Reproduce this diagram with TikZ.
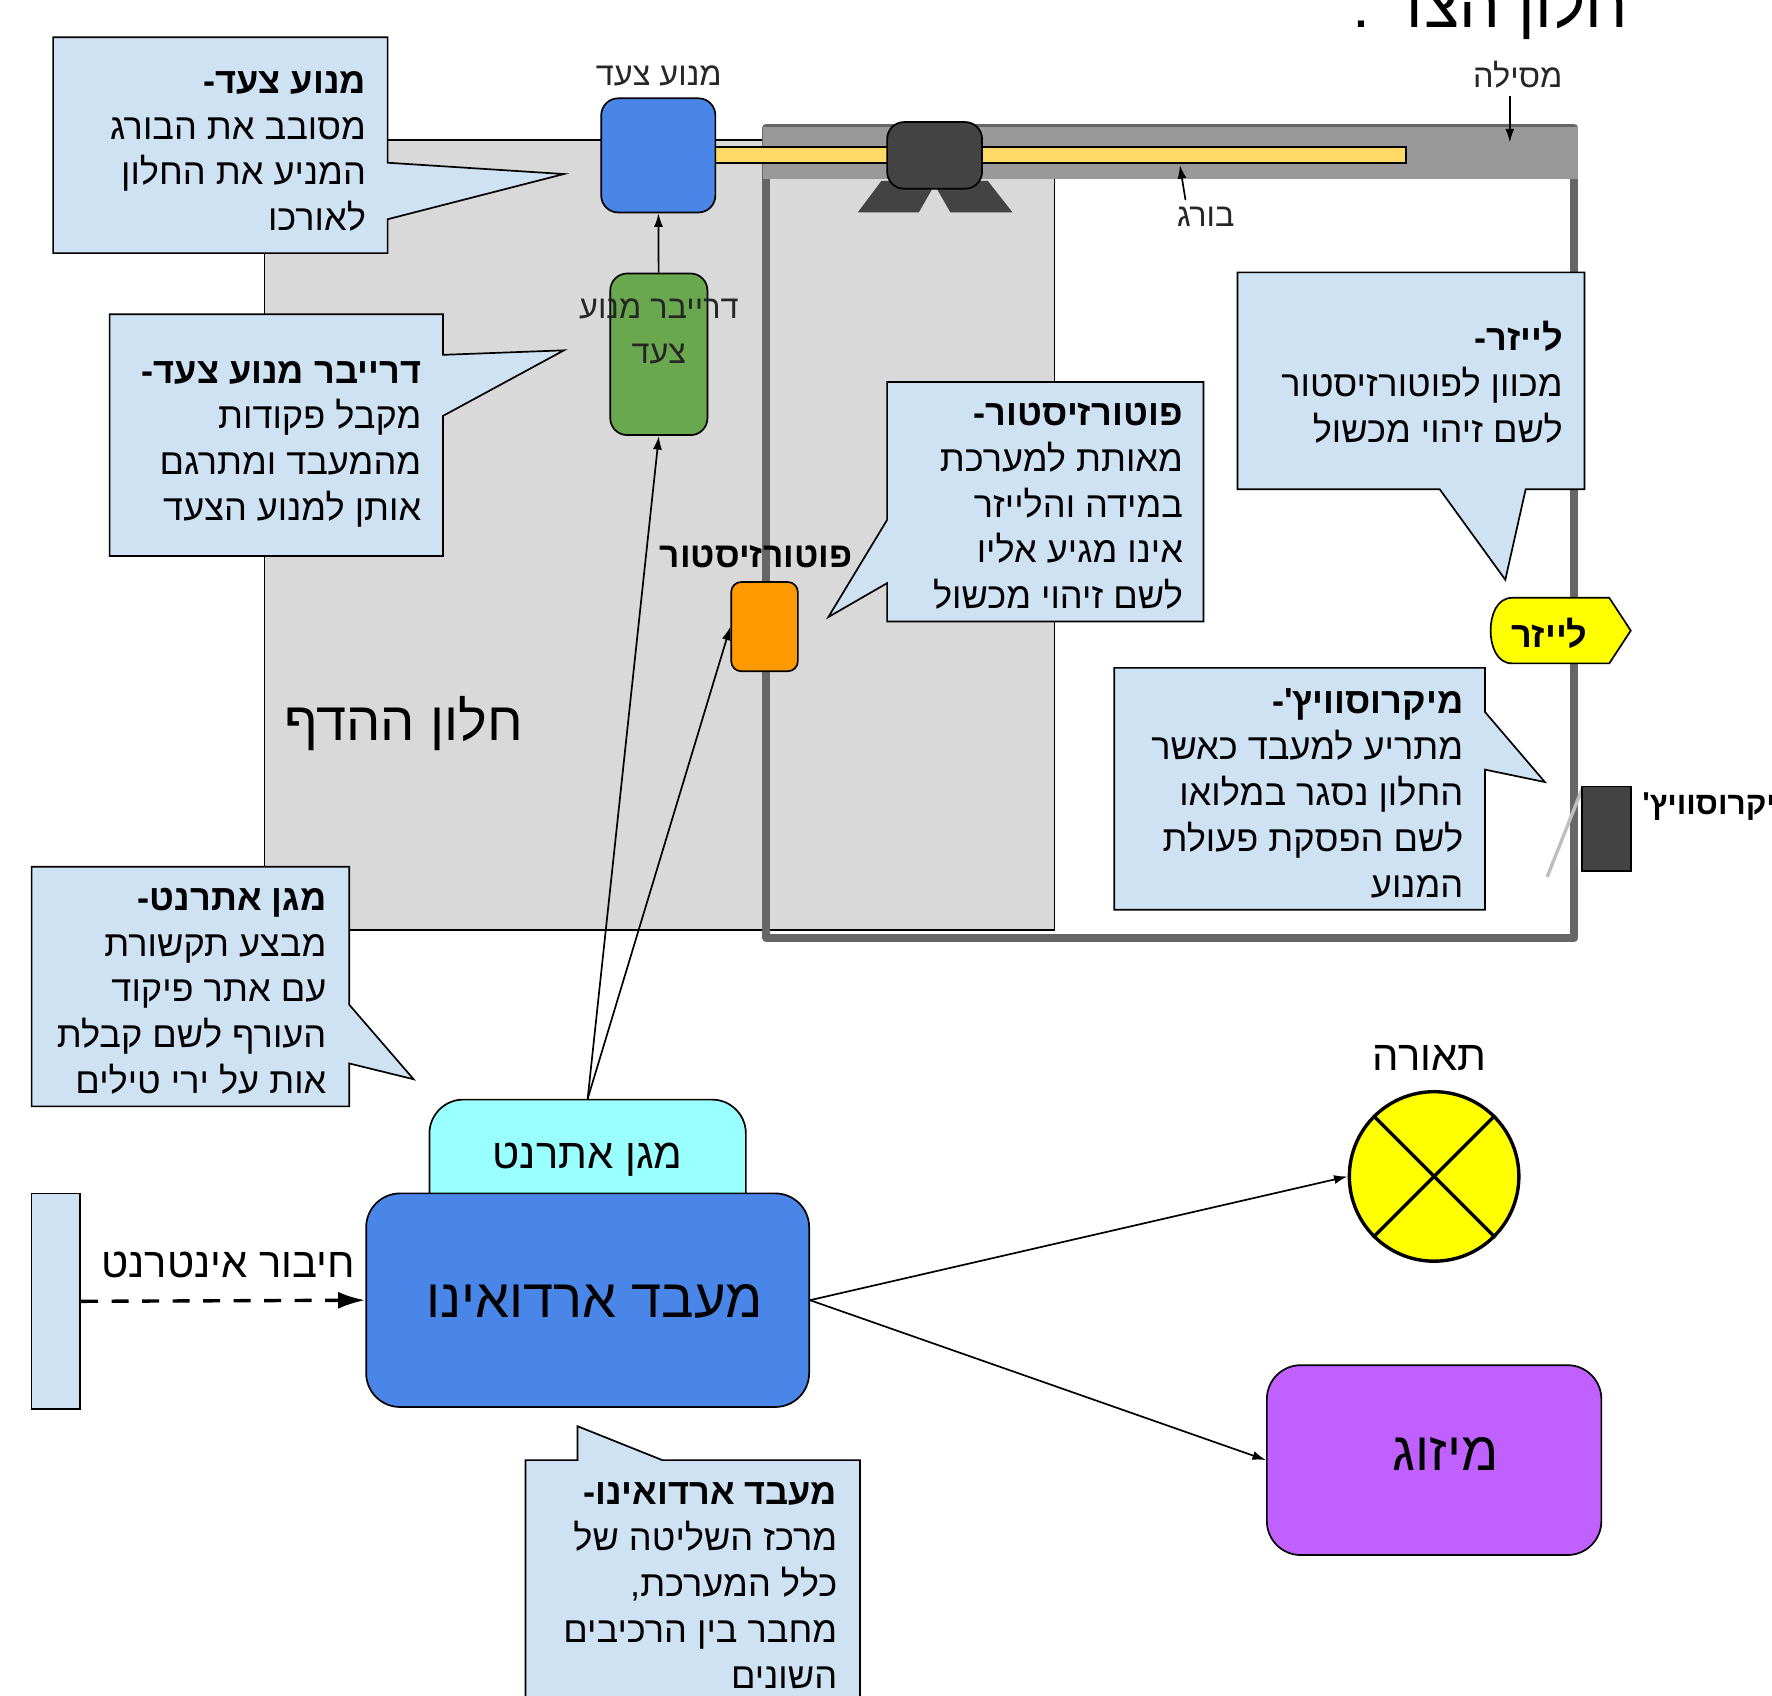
\documentclass[tikz,border=0pt]{standalone}
\usepackage{fontspec}
\usetikzlibrary{arrows.meta}
\TeXXeTstate=1
\newfontfamily\hebfont[Script=Hebrew]{Liberation Sans}
\newcommand{\heb}[1]{\beginR #1\endR}
\newcommand{\hebb}[1]{{\bfseries\beginR #1\endR}}
\definecolor{calloutblue}{HTML}{CFE2F3}
\definecolor{partblue}{HTML}{4A86E8}
\definecolor{partgreen}{HTML}{6AA84F}
\definecolor{partorange}{HTML}{FF9900}
\definecolor{partyellow}{HTML}{FFFF00}
\definecolor{screwyellow}{HTML}{FFD966}
\definecolor{darkpart}{HTML}{434343}
\definecolor{railgray}{HTML}{999999}
\definecolor{framegray}{HTML}{666666}
\definecolor{windowgray}{HTML}{D9D9D9}
\definecolor{shieldcyan}{HTML}{99FFFF}
\definecolor{acpurple}{HTML}{C061FF}
\tikzset{
    calloutbox/.style={draw=black,fill=calloutblue,line width=1.5pt,line join=miter},
    callouttext/.style={anchor=east,inner sep=0pt,align=right,font=\hebfont\fontsize{32}{40.5}\selectfont},
    part/.style={draw=black,line width=1.5pt,inner sep=0pt,rounded corners=15pt},
    smalllabel/.style={inner sep=0pt,align=center,font=\hebfont\fontsize{28.7}{40}\selectfont,text=black!85},
    midlabel/.style={inner sep=0pt,font=\hebfont\fontsize{37}{44}\selectfont},
    biglabel/.style={inner sep=0pt,font=\hebfont\fontsize{48}{54}\selectfont},
    sig/.style={line width=1.5pt,-{Latex[length=12pt,width=8pt]}}
}
\begin{document}
\begin{tikzpicture}[x=1pt,y=-1pt]
    \useasboundingbox (0,0) rectangle (1568,1500.7);
    % window and rail
    \draw[fill=windowgray,line width=1.5pt] (234,124) rectangle (933,823);
    \draw[framegray,line width=7pt,line join=round] (678,113) rectangle (1393,830);
    \fill[railgray] (675,112) rectangle (1396,158);
    \draw[fill=screwyellow,line width=1.5pt] (633,130) rectangle (1244,144);
    \fill[darkpart] (825,167) -- (813,188) -- (759,188) -- (780,160) -- (874,160) -- (896,188) -- (841,188) -- (829,167) -- cycle;
    \node[part,fill=darkpart,minimum width=84pt,minimum height=59pt] (carriage) at (827,137.5) {};
    \node[part,fill=partblue,minimum width=101pt,minimum height=101pt] (motor) at (582.5,137.5) {};
    \node[part,fill=partgreen,minimum width=86pt,minimum height=143pt] (driver) at (583,313.5) {};
    \node[part,fill=partorange,rounded corners=9pt,minimum width=59pt,minimum height=79pt] (photo) at (676.5,554.5) {};
    % labels on the parts
    \node[smalllabel] (motorlabel) at (583,67.5) {\heb{מנוע צעד}};
    \node[smalllabel] (driverlabel) at (583,293) {\heb{דרייבר מנוע}\\\heb{צעד}};
    \node[smalllabel] (raillabel) at (1343,66) {\heb{מסילה}};
    \node[smalllabel] (screwlabel) at (1067,192) {\heb{בורג}};
    \node[smalllabel,font=\hebfont\bfseries\fontsize{31.3}{40}\selectfont,text=black] (photolabel) at (669,493) {\heb{פוטורזיסטור}};
    \node[biglabel] (windowlabel) at (357,640) {\heb{חלון ההדף}};
    \node[font=\hebfont\fontsize{57}{64}\selectfont,inner sep=0pt] (sidelabel) at (1319,6.5) {\heb{חלון הצד :}};
    \coordinate (railtail) at (1336,85);
    \coordinate (railpoint) at (1336,126);
    \coordinate (screwtail) at (1049,177);
    \coordinate (screwpoint) at (1044,146);
    \draw[sig] (railtail) -- (railpoint);
    \draw[sig] (screwtail) -- (screwpoint);
    \draw[sig] (driver) -- (motor);
    % callouts
    \draw[calloutbox] (47,33) -- (343,33) -- (343,144) -- (499,154) -- (343,194) -- (343,224) -- (47,224) -- cycle;
    \node[callouttext] (motortext) at (324,134) {\hebb{מנוע צעד-}\\\heb{מסובב את הבורג}\\\heb{המניע את החלון}\\\heb{לאורכו}};
    \draw[calloutbox] (97,278) -- (392,278) -- (392,314) -- (499,310) -- (392,368) -- (392,492) -- (97,492) -- cycle;
    \node[callouttext] (drivertext) at (373,393) {\hebb{דרייבר מנוע צעד-}\\\heb{מקבל פקודות}\\\heb{מהמעבד ומתרגם}\\\heb{אותן למנוע הצעד}};
    \draw[calloutbox] (1095,241) -- (1402,241) -- (1402,433) -- (1350,433) -- (1332,513) -- (1274,433) -- (1095,433) -- cycle;
    \node[callouttext] (lasertext) at (1383,338) {\hebb{לייזר-}\\\heb{מכוון לפוטורזיסטור}\\\heb{לשם זיהוי מכשול}};
    \draw[calloutbox] (785,338) -- (1065,338) -- (1065,550) -- (785,550) -- (785,516) -- (733,546) -- (785,460) -- cycle;
    \node[callouttext] (phototext) at (1047,448) {\hebb{פוטורזיסטור-}\\\heb{מאותת למערכת}\\\heb{במידה והלייזר}\\\heb{אינו מגיע אליו}\\\heb{לשם זיהוי מכשול}};
    \draw[calloutbox] (986,591) -- (1314,591) -- (1314,630) -- (1367,692) -- (1314,681) -- (1314,805) -- (986,805) -- cycle;
    \node[callouttext] (microtext) at (1295,702) {\hebb{מיקרוסוויץ'-}\\\heb{מתריע למעבד כאשר}\\\heb{החלון נסגר במלואו}\\\heb{לשם הפסקת פעולת}\\\heb{המנוע}};
    \draw[calloutbox] (28,767) -- (309,767) -- (309,889) -- (366,955) -- (309,941) -- (309,979) -- (28,979) -- cycle;
    \node[callouttext] (shieldtext) at (289,877) {\hebb{מגן אתרנט-}\\\heb{מבצע תקשורת}\\\heb{עם אתר פיקוד}\\\heb{העורף לשם קבלת}\\\heb{אות על ירי טילים}};
    \draw[calloutbox] (465,1292) -- (511,1292) -- (511,1262) -- (586,1292) -- (761,1292) -- (761,1520) -- (465,1520) -- cycle;
    \node[callouttext] (boardtext) at (741,1403) {\hebb{מעבד ארדואינו-}\\\heb{מרכז השליטה של}\\\heb{כלל המערכת,}\\\heb{מחבר בין הרכיבים}\\\heb{השונים}};
    % laser and microswitch
    \draw[fill=partyellow,line width=1.5pt] (1424,529) -- (1443,558) -- (1424,587) -- (1338,587) to[out=180,in=-90] (1319,558) to[out=90,in=180] (1338,529) -- cycle;
    \node[inner sep=0pt,font=\hebfont\bfseries\fontsize{32}{40}\selectfont] (laserlabel) at (1371,560) {\heb{לייזר}};
    \draw[black!25,line width=3pt] (1400,698) -- (1369,776);
    \node[draw=black,fill=darkpart,line width=1.5pt,inner sep=0pt,minimum width=43pt,minimum height=75pt] (switch) at (1421.5,733.5) {};
    \node[anchor=west,inner sep=0pt,font=\hebfont\bfseries\fontsize{28}{40}\selectfont] (switchlabel) at (1453,714) {\heb{מיקרוסוויץ'}};
    % board
    \node[part,fill=shieldcyan,rounded corners=30pt,minimum width=280pt,minimum height=113pt] (shield) at (520,1029.5) {};
    \node[part,fill=partblue,rounded corners=30pt,minimum width=392pt,minimum height=189pt] (board) at (520,1150.5) {};
    \node[midlabel] (shieldlabel) at (520,1026) {\heb{מגן אתרנט}};
    \node[biglabel] (boardlabel) at (526,1152) {\heb{מעבד ארדואינו}};
    \node[draw=black,fill=calloutblue,line width=1.5pt,inner sep=0pt,minimum width=43pt,minimum height=191pt] (netbar) at (49.5,1151.5) {};
    \node[midlabel] (netlabel) at (202,1119) {\heb{חיבור אינטרנט}};
    \draw[line width=3pt,dash pattern=on 15pt off 12pt,-{Latex[length=24pt,width=15pt]}] (netbar.east) -- (board.west);
    \draw[sig] (shield.north) -- (driver.south);
    \draw[sig] (shield.north) -- (photo.west);
    % outputs
    \node[draw=black,fill=partyellow,circle,line width=3pt,inner sep=0pt,minimum size=150pt] (bulb) at (1269,1041) {};
    \draw[line width=3pt] (bulb.north west) -- (bulb.south east);
    \draw[line width=3pt] (bulb.north east) -- (bulb.south west);
    \node[midlabel] (bulblabel) at (1265,936) {\heb{תאורה}};
    \node[part,fill=acpurple,rounded corners=30pt,minimum width=296pt,minimum height=168pt] (fan) at (1269,1292) {};
    \node[biglabel] (fanlabel) at (1279,1287) {\heb{מיזוג}};
    \draw[sig] (board.east) -- (bulb.west);
    \draw[sig] (board.east) -- (fan.west);
\end{tikzpicture}
\end{document}
